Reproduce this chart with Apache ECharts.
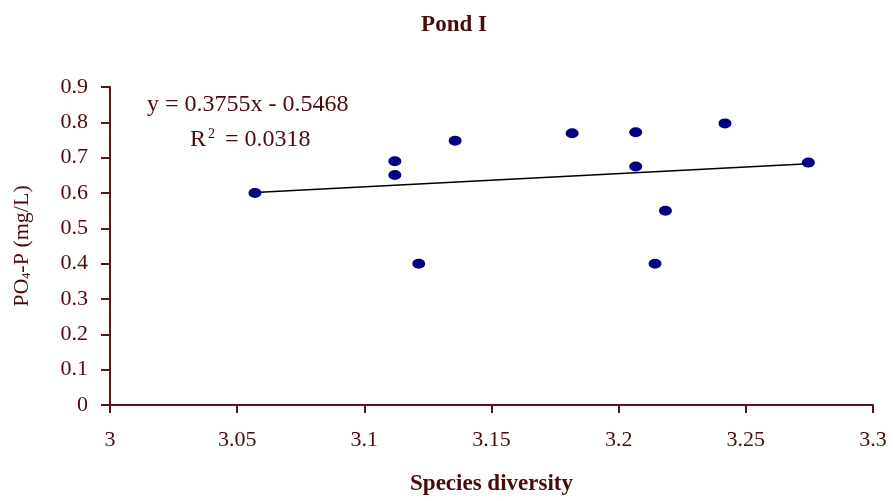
<!DOCTYPE html>
<html style="height: 100%">
<head>
  <meta charset="utf-8">
</head>
<body style="height: 100%; margin: 0">
  <div id="container" style="width: 893px; height: 501px"></div>
  <script type="text/javascript" src="https://cdn.jsdelivr.net/npm/echarts@6/dist/echarts.min.js"></script>
  <script type="text/javascript">
    // species diversity (x) vs PO4-P (y)
    var diversity = [3.057, 3.112, 3.112, 3.1214, 3.1357, 3.1817, 3.2067, 3.2067, 3.2143, 3.2184, 3.2418, 3.2746];
    var po4p = [0.60, 0.69, 0.651, 0.40, 0.748, 0.769, 0.772, 0.675, 0.40, 0.55, 0.797, 0.686];
    // linear trend as printed on the chart
    var slope = 0.3755;
    var intercept = -0.5468;
    var trendX = [3.057, 3.2746];

    var textColor = '#4a0a0a';
    var font = 'Liberation Serif';

    var points = diversity.map(function (x, i) { return [x, po4p[i]]; });
    var trend = trendX.map(function (x) { return [x, slope * x + intercept]; });

    var dom = document.getElementById("container");
    var myChart = echarts.init(dom);

    var option = {
      backgroundColor: '#fff',
      animation: false,
      title: {
        text: 'Pond I',
        left: 449,
        textAlign: 'center',
        top: 9,
        textStyle: { fontFamily: font, fontSize: 23, fontWeight: 'bold', color: textColor }
      },
      grid: { left: 110, right: 20, top: 87, bottom: 94 },
      xAxis: {
        type: 'value',
        min: 3, max: 3.3, interval: 0.05,
        name: 'Species diversity',
        nameLocation: 'middle',
        nameGap: 68,
        nameTextStyle: { fontFamily: font, fontSize: 23, fontWeight: 'bold', color: textColor },
        axisLine: { lineStyle: { color: '#5a1414', width: 2 } },
        axisTick: { show: true, length: 8, lineStyle: { color: '#5a1414', width: 2 } },
        axisLabel: { fontFamily: font, fontSize: 22, color: textColor, margin: 24 },
        splitLine: { show: false }
      },
      yAxis: {
        type: 'value',
        min: 0, max: 0.9, interval: 0.1,
        name: '{a|PO}{s|4}{a|-P (mg/L)}',
        nameLocation: 'middle',
        nameGap: 77,
        nameRotate: 90,
        nameTextStyle: {
          color: textColor,
          rich: {
            a: { fontFamily: font, fontSize: 22, color: textColor },
            s: { fontFamily: font, fontSize: 12, color: textColor, verticalAlign: 'bottom', padding: [8, 0, 0, 0] }
          }
        },
        axisLine: { show: true, lineStyle: { color: '#5a1414', width: 2 } },
        axisTick: { show: true, length: 9, lineStyle: { color: '#5a1414', width: 2 } },
        axisLabel: { fontFamily: font, fontSize: 22, color: textColor, margin: 22 },
        splitLine: { show: false }
      },
      graphic: [
        {
          type: 'text', left: 147, top: 93,
          style: { text: 'y = 0.3755x - 0.5468', fontFamily: font, fontSize: 24, fill: textColor }
        },
        {
          type: 'text', left: 190, top: 127,
          style: {
            text: '{a|R}{s|2}{a| = 0.0318}',
            fill: textColor,
            rich: {
              a: { fontFamily: font, fontSize: 24, fill: textColor },
              s: { fontFamily: font, fontSize: 14, fill: textColor, verticalAlign: 'top', padding: [0, 4, 12, 2] }
            }
          }
        }
      ],
      series: [
        {
          type: 'line',
          data: trend,
          symbol: 'none',
          lineStyle: { color: '#000', width: 1.5 },
          z: 1
        },
        {
          type: 'scatter',
          data: points,
          symbol: 'circle',
          symbolSize: [13, 10],
          itemStyle: { color: '#000080', opacity: 1 },
          z: 2
        }
      ]
    };
    myChart.setOption(option);
  </script>
</body>
</html>
